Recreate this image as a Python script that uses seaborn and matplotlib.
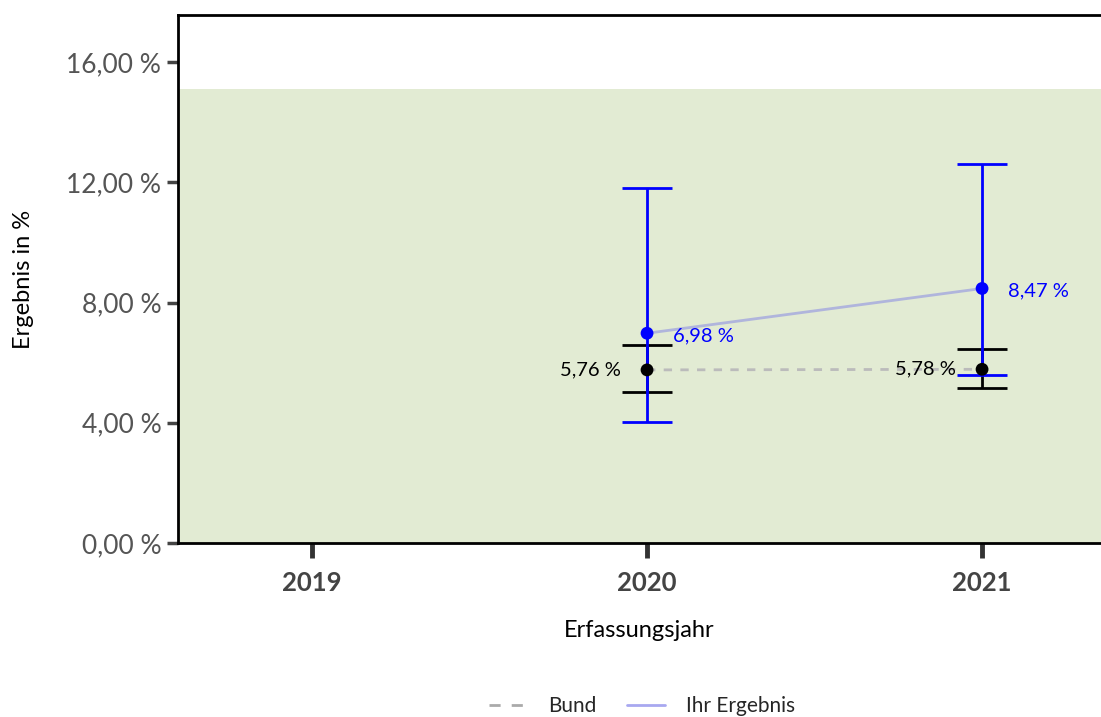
import numpy as np
import pandas as pd
import matplotlib
matplotlib.use("Agg")
import matplotlib.pyplot as plt
import seaborn as sns
from matplotlib.lines import Line2D

# Werte
jahre = [2020, 2021]
bund = [5.76, 5.78]
bund_lo = [5.01, 5.16]
bund_hi = [6.60, 6.46]
ihr = [6.98, 8.47]
ihr_lo = [4.02, 5.58]
ihr_hi = [11.80, 12.61]
x_ticks = [2019, 2020, 2021]
y_ticks = [0, 4, 8, 12, 16]
referenzbereich = 15.1

sns.set_theme(style="white")
plt.rcParams['font.family'] = ['Lato', 'DejaVu Sans']

df = pd.DataFrame({
    'Jahr': jahre * 2,
    'Wert': bund + ihr,
    'Reihe': ['Bund'] * 2 + ['Ihr Ergebnis'] * 2,
})

fig = plt.figure(figsize=(11.01, 7.17), dpi=100)
ax = fig.add_axes([178 / 1101, 1 - 543 / 717, 1 - 178 / 1101, (543 - 15) / 717])

# Referenzbereich
ax.axhspan(0, referenzbereich, color='#e2ebd3', zorder=0, lw=0)

sns.lineplot(data=df, x='Jahr', y='Wert', hue='Reihe', style='Reihe',
             palette={'Bund': '#bbbbbb', 'Ihr Ergebnis': '#b0b5dc'},
             dashes={'Bund': (3, 3), 'Ihr Ergebnis': ''},
             linewidth=2, legend=False, ax=ax, zorder=2)

# Konfidenzintervalle
b = np.array(bund)
i = np.array(ihr)
ax.errorbar(jahre, b, yerr=[b - np.array(bund_lo), np.array(bund_hi) - b],
            fmt='none', ecolor='black', elinewidth=2, capsize=18, capthick=2, zorder=3)
ax.errorbar(jahre, i, yerr=[i - np.array(ihr_lo), np.array(ihr_hi) - i],
            fmt='none', ecolor='#0000ff', elinewidth=2, capsize=18, capthick=2, zorder=4)

sns.scatterplot(x=jahre, y=bund, color='black', s=85, edgecolor='none', ax=ax, zorder=5)
sns.scatterplot(x=jahre, y=ihr, color='#0000ff', s=85, edgecolor='none', ax=ax, zorder=6)

for xv, yv in zip(jahre, bund):
    ax.annotate(f"{yv:.2f} %".replace('.', ','), (xv, yv), xytext=(-19, 0),
                textcoords='offset points', ha='right', va='center',
                fontsize=14.5, color='black', zorder=7)
for xv, yv in zip(jahre, ihr):
    ax.annotate(f"{yv:.2f} %".replace('.', ','), (xv, yv), xytext=(19, -2),
                textcoords='offset points', ha='left', va='center',
                fontsize=14.5, color='#0000ff', zorder=7)

ax.set_xlim(2018.6, 2021.355)
ax.set_ylim(0, 17.57)
ax.set_xticks(x_ticks)
ax.set_xticklabels([str(t) for t in x_ticks], fontweight='bold', fontsize=18.5, color='#444444')
ax.set_yticks(y_ticks)
ax.set_yticklabels([f"{t:.2f} %".replace('.', ',') for t in y_ticks], fontsize=19, color='#555555')
ax.tick_params(axis='y', length=8, width=2.5, color='#444444', pad=4, left=True)
ax.tick_params(axis='x', length=11, width=3.5, color='#333333', pad=9, bottom=True)

for side in ['left', 'bottom', 'top']:
    ax.spines[side].set_color('black')
    ax.spines[side].set_linewidth(2)
    ax.spines[side].set_visible(True)
ax.spines['right'].set_visible(False)

ax.set_xlabel('Erfassungsjahr', fontsize=17, color='black', labelpad=18)
ax.set_ylabel('Ergebnis in %', fontsize=17, color='black', labelpad=23)

handles = [Line2D([0], [0], color='#aaaaaa', lw=2, dashes=(4, 4)),
           Line2D([0], [0], color='#a8a8f0', lw=2)]
fig.legend(handles, ['Bund', 'Ihr Ergebnis'], loc='center', bbox_to_anchor=(642 / 1101, 1 - 706 / 717),
           ncol=2, frameon=False, fontsize=15, handlelength=1.8, columnspacing=1.5, handletextpad=1.0)

fig.savefig('out.png', dpi=100)
